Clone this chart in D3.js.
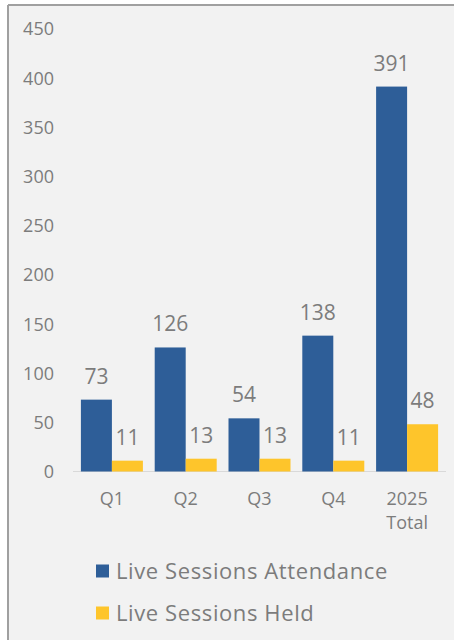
<!DOCTYPE html>
<html>
<head>
<meta charset="utf-8">
<script src="https://cdn.jsdelivr.net/npm/d3@7"></script>
<style>
  html, body { margin: 0; padding: 0; background: #ffffff; }
  svg { display: block; }
  text { font-family: "Open Sans", "Liberation Sans", sans-serif; fill: #7c7c7c; }
</style>
</head>
<body>
<svg id="chart" width="454" height="640"></svg>
<script>
// Quarterly live-session figures
const categories = ["Q1", "Q2", "Q3", "Q4", "2025\nTotal"];
const attendance = [73, 126, 54, 138, 391];
const sessionsHeld = [11, 13, 13, 11, 48];
const yTicks = [0, 50, 100, 150, 200, 250, 300, 350, 400, 450];
const seriesNames = ["Live Sessions Attendance", "Live Sessions Held"];
const seriesColors = ["#2e5e98", "#fec52b"];

const svg = d3.select("#chart");
const W = 454, H = 640;

// Panel background with left and top frame lines
svg.append("rect").attr("x", 8).attr("y", 5).attr("width", W - 8).attr("height", H - 5)
  .attr("fill", "#f2f2f2");
svg.append("line").attr("x1", 8).attr("x2", 8).attr("y1", 5).attr("y2", H)
  .attr("stroke", "#a0a0a0").attr("stroke-width", 2);
svg.append("line").attr("x1", 8).attr("x2", W).attr("y1", 5).attr("y2", 5)
  .attr("stroke", "#a0a0a0").attr("stroke-width", 2);

const plot = { left: 75, right: 444, top: 28.5, bottom: 471.5 };

const x0 = d3.scaleBand().domain(d3.range(categories.length))
  .range([plot.left, plot.right]).paddingInner(0.16).paddingOuter(0.08);
const x1 = d3.scaleBand().domain([0, 1]).range([0, x0.bandwidth()]);
const y = d3.scaleLinear().domain([0, 450]).range([plot.bottom, plot.top]);

// Y axis labels (no axis line)
const yAxis = d3.axisLeft(y).tickValues(yTicks).tickSize(0).tickPadding(0);
const gy = svg.append("g").attr("transform", "translate(54,0)").call(yAxis);
gy.select(".domain").remove();
gy.selectAll("text").style("font-size", "18px").attr("fill", "#7c7c7c")
  .attr("dy", "0.35em");

// Baseline
svg.append("line").attr("x1", plot.left - 2).attr("x2", plot.right + 2)
  .attr("y1", y(0)).attr("y2", y(0)).attr("stroke", "#d9d9d9").attr("stroke-width", 1);

const series = [attendance, sessionsHeld];

series.forEach((vals, s) => {
  const g = svg.append("g");
  g.selectAll("rect").data(vals).join("rect")
    .attr("x", (d, i) => x0(i) + x1(s))
    .attr("width", x1.bandwidth())
    .attr("y", d => y(d))
    .attr("height", d => y(0) - y(d))
    .attr("fill", seriesColors[s]);
  g.selectAll("text").data(vals).join("text")
    .attr("x", (d, i) => x0(i) + x1(s) + x1.bandwidth() / 2)
    .attr("y", d => y(d) - 16)
    .attr("text-anchor", "middle")
    .style("font-size", "21px")
    .text(d => d);
});

// Category labels
const xg = svg.append("g");
categories.forEach((c, i) => {
  const t = xg.append("text")
    .attr("x", x0(i) + x0.bandwidth() / 2)
    .attr("y", 505)
    .attr("text-anchor", "middle")
    .style("font-size", "18px");
  c.split("\n").forEach((line, k) => {
    t.append("tspan").attr("x", x0(i) + x0.bandwidth() / 2)
      .attr("dy", k === 0 ? 0 : 24).text(line);
  });
});

// Legend
const legend = svg.append("g");
seriesNames.forEach((name, s) => {
  const ly = 571 + s * 42;
  legend.append("rect").attr("x", 96).attr("y", ly - 6.5).attr("width", 13).attr("height", 13)
    .attr("fill", seriesColors[s]);
  legend.append("text").attr("x", 116).attr("y", ly).attr("dy", "0.35em")
    .style("font-size", "22px").style("letter-spacing", "0.6px").text(name);
});
</script>
</body>
</html>
